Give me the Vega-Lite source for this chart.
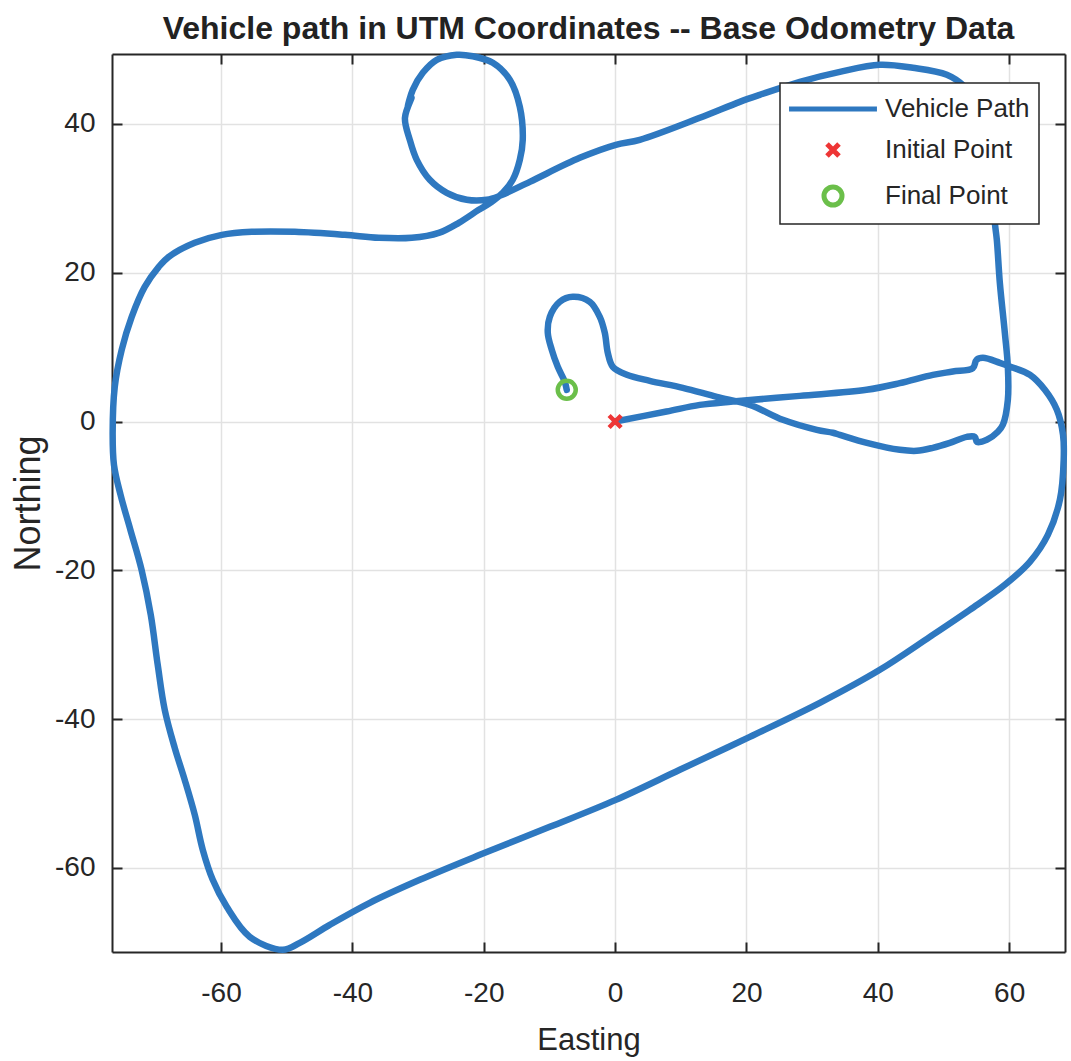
{
  "$schema": "https://vega.github.io/schema/vega-lite/v6.json",
  "width": 953,
  "height": 898,
  "autosize": {"type": "none"},
  "padding": {"left": 112, "top": 54, "right": 6, "bottom": 109},
  "background": "white",
  "title": {"text": "Vehicle path in UTM Coordinates -- Base Odometry Data", "font": "Liberation Sans", "fontSize": 32, "fontWeight": "bold", "color": "#222222", "anchor": "middle", "frame": "group", "baseline": "alphabetic", "offset": -20},
  "config": {
    "view": {"stroke": null},
    "axis": {"domainColor": "#262626", "domainWidth": 2, "tickColor": "#262626", "tickWidth": 2, "tickSize": -10, "gridColor": "#e2e2e2", "gridWidth": 1.5, "labelFont": "Liberation Sans", "labelFontSize": 28, "labelColor": "#262626", "titleFont": "Liberation Sans", "titleFontWeight": "normal", "titleColor": "#262626"},
    "legend": {"orient": "none", "legendX": 668, "legendY": 29, "padding": 8.5, "symbolOffset": 27, "labelOffset": 34.5, "rowPadding": 10, "labelFont": "Liberation Sans", "labelFontSize": 26, "labelColor": "#262626", "fillColor": "white", "strokeColor": "#262626", "strokeWidth": 1.5, "symbolSize": 900, "symbolStrokeWidth": 5, "symbolFillColor": "transparent", "labelLimit": 300}
  },
  "layer": [
    {
      "data": {"values": [
        {"i":0,"x":0,"y":0},{"i":1,"x":7.83,"y":1.34},{"i":2,"x":12.9,"y":2.24},{"i":3,"x":17.92,"y":2.69},{"i":4,"x":28.13,"y":3.45},{"i":5,"x":38.28,"y":4.26},{"i":6,"x":43.35,"y":5.16},{"i":7,"x":48.38,"y":6.28},{"i":8,"x":51.42,"y":6.72},{"i":9,"x":54.47,"y":7.18},{"i":10,"x":55.03,"y":8.29},{"i":11,"x":55.99,"y":8.56},{"i":12,"x":58.58,"y":7.89},{"i":13,"x":60.1,"y":7.39},
        {"i":14,"x":63.15,"y":6.28},{"i":15,"x":65.43,"y":4.26},{"i":16,"x":67.26,"y":1.57},{"i":17,"x":68.2,"y":-1.79},{"i":18,"x":68.3,"y":-5.15},{"i":19,"x":67.72,"y":-10.52},{"i":20,"x":65.89,"y":-15.23},{"i":21,"x":63.15,"y":-18.86},{"i":22,"x":59.34,"y":-21.95},{"i":23,"x":54.01,"y":-25.31},{"i":24,"x":47.92,"y":-28.94},{"i":25,"x":40.31,"y":-33.37},{"i":26,"x":31.17,"y":-37.81},{"i":27,"x":20.51,"y":-42.38},{"i":28,"x":9.85,"y":-46.81},{"i":29,"x":0.11,"y":-50.85},{"i":30,"x":-9.94,"y":-54.48},{"i":31,"x":-20.6,"y":-58.24},{"i":32,"x":-29.74,"y":-61.6},{"i":33,"x":-37.35,"y":-64.69},{"i":34,"x":-43.44,"y":-67.65},{"i":35,"x":-48.01,"y":-70.07},{"i":36,"x":-50.6,"y":-71.0},
        {"i":37,"x":-55.63,"y":-69.26},{"i":38,"x":-59.13,"y":-65.23},{"i":39,"x":-61.26,"y":-61.6},{"i":40,"x":-62.78,"y":-57.57},{"i":41,"x":-64.0,"y":-52.86},{"i":42,"x":-65.53,"y":-48.16},{"i":43,"x":-67.05,"y":-43.86},{"i":44,"x":-68.57,"y":-38.75},{"i":45,"x":-69.64,"y":-32.7},{"i":46,"x":-70.7,"y":-25.98},{"i":47,"x":-72.1,"y":-19.93},{"i":48,"x":-73.8,"y":-14.56},{"i":49,"x":-75.3,"y":-9.85},{"i":50,"x":-76.3,"y":-5.82},{"i":51,"x":-76.5,"y":-1.52},{"i":52,"x":-76.18,"y":4.66},{"i":53,"x":-75.12,"y":9.64},{"i":54,"x":-73.6,"y":14.07},{"i":55,"x":-71.62,"y":18.1},{"i":56,"x":-69.48,"y":20.79},{"i":57,"x":-67.96,"y":22.14},{"i":58,"x":-64.0,"y":24.02},{"i":59,"x":-59.89,"y":25.09},{"i":60,"x":-55.32,"y":25.5},{"i":61,"x":-48.77,"y":25.5},{"i":62,"x":-41.16,"y":25.09},{"i":63,"x":-35.98,"y":24.69},{"i":64,"x":-30.96,"y":24.69},{"i":65,"x":-26.85,"y":25.36},{"i":66,"x":-23.8,"y":26.71},{"i":67,"x":-20.76,"y":28.45},{"i":68,"x":-18.78,"y":29.53},
        {"i":69,"x":-17.1,"y":30.74},{"i":70,"x":-15.58,"y":32.49},{"i":71,"x":-14.51,"y":35.17},{"i":72,"x":-14.06,"y":37.86},{"i":73,"x":-14.51,"y":42.3},{"i":74,"x":-16.03,"y":45.93},{"i":75,"x":-18.62,"y":48.21},{"i":76,"x":-21.67,"y":49.1},{"i":77,"x":-24.11,"y":49.3},{"i":78,"x":-27.15,"y":48.62},{"i":79,"x":-29.28,"y":46.87},{"i":80,"x":-30.81,"y":44.58},{"i":81,"x":-31.57,"y":42.3},{"i":82,"x":-31.0,"y":43.5},{"i":83,"x":-32.0,"y":40.8},{"i":84,"x":-31.26,"y":37.86},{"i":85,"x":-30.2,"y":35.17},{"i":86,"x":-28.22,"y":32.49},{"i":87,"x":-25.63,"y":30.74},{"i":88,"x":-22.58,"y":29.8},{"i":89,"x":-19.54,"y":29.8},{"i":90,"x":-17.56,"y":30.34},{"i":91,"x":-12.99,"y":32.22},{"i":92,"x":-5.38,"y":35.44},{"i":93,"x":0.11,"y":37.19},{"i":94,"x":3.76,"y":37.86},{"i":95,"x":12.9,"y":40.82},{"i":96,"x":18.99,"y":42.97},{"i":97,"x":22.03,"y":43.91},{"i":98,"x":28.13,"y":45.66},{"i":99,"x":34.22,"y":47.0},{"i":100,"x":40.31,"y":47.94},{"i":101,"x":45.33,"y":47.54},{"i":102,"x":50.51,"y":46.6},{"i":103,"x":53.25,"y":44.99},{"i":104,"x":55.23,"y":42.57},{"i":105,"x":56.6,"y":38.53},{"i":106,"x":57.36,"y":33.16},{"i":107,"x":57.82,"y":26.71},{"i":108,"x":58.12,"y":24.42},{"i":109,"x":58.58,"y":18.64},{"i":110,"x":59.34,"y":11.92},{"i":111,"x":59.8,"y":7.35},{"i":112,"x":59.8,"y":2.92},{"i":113,"x":59.04,"y":-0.44},{"i":114,"x":58.28,"y":-1.38},{"i":115,"x":56.6,"y":-2.46},{"i":116,"x":55.08,"y":-2.73},{"i":117,"x":54.77,"y":-2.06},{"i":118,"x":53.56,"y":-2.06},{"i":119,"x":50.97,"y":-2.86},{"i":120,"x":48.38,"y":-3.53},{"i":121,"x":45.94,"y":-3.94},{"i":122,"x":43.35,"y":-3.8},{"i":123,"x":38.33,"y":-2.86},{"i":124,"x":34.22,"y":-1.79},{"i":125,"x":33.15,"y":-1.51},{"i":126,"x":30.71,"y":-1.12},{"i":127,"x":25.54,"y":0.23},{"i":128,"x":20.51,"y":2.24},{"i":129,"x":15.49,"y":3.32},{"i":130,"x":10.31,"y":4.53},{"i":131,"x":5.28,"y":5.47},{"i":132,"x":1.78,"y":6.28},{"i":133,"x":-0.35,"y":7.35},{"i":134,"x":-1.11,"y":9.23},{"i":135,"x":-1.57,"y":11.92},{"i":136,"x":-2.33,"y":14.07},{"i":137,"x":-3.85,"y":16.09},{"i":138,"x":-6.44,"y":16.76},{"i":139,"x":-8.42,"y":16.09},{"i":140,"x":-9.94,"y":14.07},{"i":141,"x":-10.25,"y":11.92},{"i":142,"x":-9.64,"y":9.64},{"i":143,"x":-8.73,"y":7.35},{"i":144,"x":-7.66,"y":5.34},{"i":145,"x":-7.36,"y":4.26}
      ]},
      "mark": {"type": "line", "strokeWidth": 6.5, "strokeJoin": "round", "strokeCap": "round", "color": "#2e78c0", "interpolate": "catmull-rom"},
      "encoding": {
        "x": {"field": "x", "type": "quantitative", "scale": {"domain": [-76.6, 68.5], "nice": false, "zero": false},
              "axis": {"orient": "bottom", "values": [-60, -40, -20, 0, 20, 40, 60], "grid": true, "labelExpr": "toString(datum.value)", "labelPadding": 37, "title": "Easting", "titleFontSize": 31, "titlePadding": 18}},
        "y": {"field": "y", "type": "quantitative", "scale": {"domain": [-71.3, 49.4], "nice": false, "zero": false},
              "axis": {"orient": "left", "values": [-60, -40, -20, 0, 20, 40], "grid": true, "labelExpr": "toString(datum.value)", "labelPadding": 27, "title": "Northing", "titleFontSize": 36, "titlePadding": 7}},
        "order": {"field": "i", "type": "quantitative"},
        "color": {"datum": "Vehicle Path", "type": "nominal",
                  "scale": {"domain": ["Vehicle Path", "Initial Point", "Final Point"], "range": ["#2e78c0", "#ee3535", "#6bbf4a"]},
                  "legend": {"title": null}}
      }
    },
    {
      "data": {"values": [
        {"x": 0, "y": 0, "series": "Initial Point"},
        {"x": -7.36, "y": 4.26, "series": "Final Point"}
      ]},
      "mark": {"type": "point", "filled": false, "strokeWidth": 4.5, "size": 900, "opacity": 1},
      "encoding": {
        "x": {"field": "x", "type": "quantitative", "scale": {"domain": [-76.6, 68.5], "nice": false, "zero": false},
              "axis": {"orient": "top", "values": [-60, -40, -20, 0, 20, 40, 60], "grid": false, "labels": false, "title": null}},
        "y": {"field": "y", "type": "quantitative", "scale": {"domain": [-71.3, 49.4], "nice": false, "zero": false},
              "axis": {"orient": "right", "values": [-60, -40, -20, 0, 20, 40], "grid": false, "labels": false, "title": null}},
        "color": {"field": "series", "type": "nominal",
                  "scale": {"domain": ["Vehicle Path", "Initial Point", "Final Point"], "range": ["#2e78c0", "#ee3535", "#6bbf4a"]},
                  "legend": {"title": null}},
        "shape": {"field": "series", "type": "nominal",
                  "scale": {"domain": ["Vehicle Path", "Initial Point", "Final Point"], "range": ["M-2.93,0H2.93", "M-0.4,-0.4L0.4,0.4M-0.4,0.4L0.4,-0.4", "M0.6,0A0.6,0.6,0,1,1,-0.6,0A0.6,0.6,0,1,1,0.6,0Z"]},
                  "legend": {"title": null}}
      }
    }
  ],
  "resolve": {"axis": {"x": "independent", "y": "independent"}}
}
